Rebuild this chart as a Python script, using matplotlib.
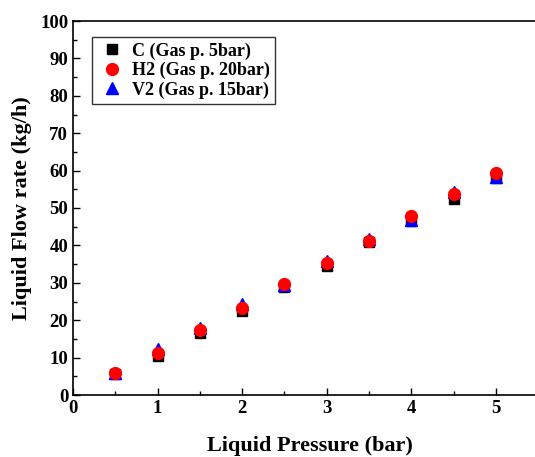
import numpy as np
import matplotlib.pyplot as plt
from matplotlib.ticker import MultipleLocator

plt.rcParams['font.family'] = ['Liberation Serif', 'DejaVu Serif']
plt.rcParams['font.weight'] = 'bold'

# data
pressure = [0.5, 1.0, 1.5, 2.0, 2.5, 3.0, 3.5, 4.0, 4.5, 5.0]
flow_c = [5.5, 10.5, 16.5, 22.5, 28.8, 34.5, 40.8, 46.5, 52.5, 58.0]
flow_h2 = [6.0, 11.3, 17.3, 23.3, 29.8, 35.3, 41.3, 47.8, 53.8, 59.3]
flow_v2 = [5.8, 12.3, 17.8, 24.3, 29.3, 35.8, 41.8, 46.8, 54.3, 58.3]

fig = plt.figure(figsize=(5.35, 4.57), dpi=100)
# axes runs past the right edge of the figure, so no right spine is visible
px_per_unit = 84.6
ax = fig.add_axes([73 / 535, 62 / 457, 5.6 * px_per_unit / 535, 374 / 457])

h_c, = ax.plot(pressure, flow_c, 's', color='black', ms=7, label='C (Gas p. 5bar)', zorder=3)
h_v2, = ax.plot(pressure, flow_v2, '^', color='blue', ms=8.5, label='V2 (Gas p. 15bar)', zorder=4)
h_h2, = ax.plot(pressure, flow_h2, 'o', color='red', ms=8.5, label='H2 (Gas p. 20bar)', zorder=5)

ax.set_xlim(0, 5.6)
ax.set_ylim(0, 100)
ax.xaxis.set_major_locator(MultipleLocator(1))
ax.xaxis.set_minor_locator(MultipleLocator(0.5))
ax.yaxis.set_major_locator(MultipleLocator(10))
ax.yaxis.set_minor_locator(MultipleLocator(5))
ax.tick_params(which='both', direction='in', labelsize=13.5, width=1)
ax.tick_params(which='major', length=5)
ax.tick_params(which='minor', length=3)
for lab in ax.get_xticklabels() + ax.get_yticklabels():
    lab.set_fontweight('bold')
for s in ax.spines.values():
    s.set_linewidth(1.2)

ax.set_xlabel('Liquid Pressure (bar)', fontsize=16, fontweight='bold', labelpad=14)
ax.set_ylabel('Liquid Flow rate (kg/h)', fontsize=16, fontweight='bold', labelpad=6)

leg = ax.legend(handles=[h_c, h_h2, h_v2], loc='upper left', bbox_to_anchor=(19 / 474, 1 - 16 / 374),
                borderaxespad=0, fontsize=13, frameon=True, fancybox=False, edgecolor='black',
                handletextpad=0.3, borderpad=0.3, labelspacing=0.12, handlelength=1.6)
leg.get_frame().set_linewidth(1)

fig.savefig('out.png', dpi=100)
